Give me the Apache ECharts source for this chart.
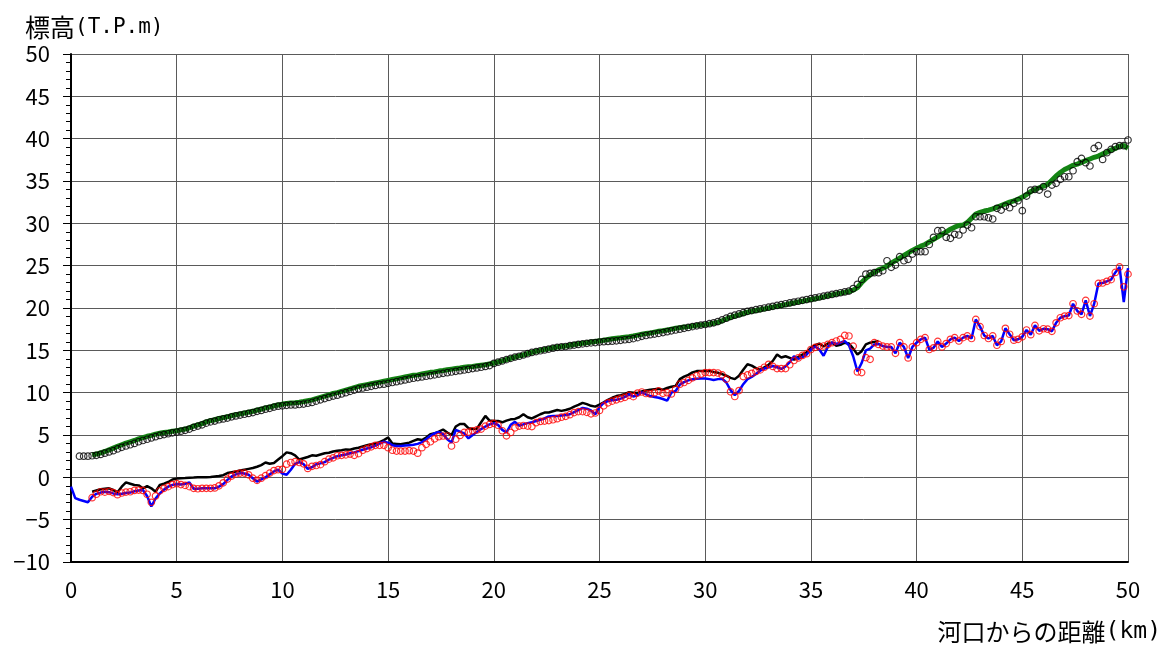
<!DOCTYPE html>
<html>
<head>
<meta charset="utf-8">
<script src="https://cdn.jsdelivr.net/npm/echarts@6/dist/echarts.min.js"></script>
<style>
  html, body { margin: 0; padding: 0; background: #fff; }
  #chart { width: 1164px; height: 648px; }
</style>
</head>
<body>
<div id="chart"></div>
<script>
// 測点: 0.2km ピッチ (0.0 ～ 50.0km), 各行 5km 分
const km = Array.from({ length: 251 }, (_, i) => i / 5)

// 上段 緑線
const greenUpper = [
  null, null, null, null, null, 2.65, 2.75, 2.9, 3.05, 3.25, 3.45, 3.65, 3.85, 4.05, 4.2, 4.35, 4.55, 4.7, 4.85, 4.95, 5.1, 5.2, 5.3, 5.35, 5.45,
  5.5, 5.6, 5.7, 5.85, 6.05, 6.2, 6.35, 6.55, 6.7, 6.8, 6.95, 7.05, 7.15, 7.3, 7.4, 7.5, 7.6, 7.7, 7.8, 7.95, 8.05, 8.2, 8.3, 8.45, 8.55,
  8.65, 8.72, 8.78, 8.82, 8.88, 8.95, 9.05, 9.15, 9.3, 9.45, 9.6, 9.75, 9.9, 10.0, 10.15, 10.3, 10.45, 10.6, 10.75, 10.85, 10.95, 11.05, 11.15, 11.25, 11.35,
  11.45, 11.55, 11.65, 11.75, 11.85, 11.95, 12.05, 12.1, 12.2, 12.3, 12.4, 12.45, 12.55, 12.62, 12.7, 12.78, 12.85, 12.92, 13.0, 13.05, 13.1, 13.18, 13.25, 13.3, 13.4,
  13.5, 13.62, 13.75, 13.9, 14.05, 14.2, 14.35, 14.45, 14.6, 14.75, 14.9, 15.0, 15.1, 15.2, 15.3, 15.4, 15.45, 15.52, 15.6, 15.7, 15.78, 15.84, 15.9, 15.98, 16.05,
  16.12, 16.2, 16.28, 16.36, 16.42, 16.48, 16.55, 16.62, 16.7, 16.8, 16.9, 16.98, 17.05, 17.15, 17.25, 17.32, 17.4, 17.5, 17.6, 17.68, 17.75, 17.8, 17.88, 17.95, 18.0,
  18.05, 18.12, 18.2, 18.3, 18.5, 18.7, 18.9, 19.05, 19.2, 19.35, 19.5, 19.6, 19.7, 19.8, 19.9, 20.0, 20.1, 20.2, 20.3, 20.4, 20.5, 20.6, 20.7, 20.8, 20.9,
  21.0, 21.1, 21.2, 21.32, 21.45, 21.55, 21.65, 21.75, 21.85, 21.95, 22.1, 22.4, 23.0, 23.5, 23.9, 24.2, 24.5, 24.7, 24.95, 25.3, 25.6, 25.9, 26.2, 26.5, 26.8,
  27.05, 27.3, 27.5, 27.8, 28.1, 28.4, 28.7, 29.0, 29.3, 29.55, 29.75, 29.8, 30.1, 30.6, 31.1, 31.3, 31.45, 31.55, 31.7, 31.9, 32.1, 32.3, 32.5, 32.65, 32.85,
  33.1, 33.4, 33.75, 34.0, 34.2, 34.4, 34.6, 35.1, 35.6, 36.0, 36.35, 36.6, 36.85, 37.0, 37.2, 37.4, 37.6, 37.8, 37.95, 38.2, 38.4, 38.65, 38.85, 39.1, 39.2,
  38.85
]

// 上段 黒丸
const blackUpper = [
  null, null, 2.5, 2.5, 2.5, 2.55, 2.6, 2.7, 2.85, 3.0, 3.15, 3.35, 3.55, 3.7, 3.85, 4.0, 4.2, 4.35, 4.5, 4.65, 4.8, 4.95, 5.05, 5.15, 5.25,
  5.35, 5.45, 5.55, 5.7, 5.9, 6.05, 6.2, 6.4, 6.55, 6.65, 6.8, 6.9, 7.0, 7.15, 7.25, 7.35, 7.45, 7.55, 7.65, 7.8, 7.9, 8.05, 8.15, 8.3, 8.4,
  8.45, 8.5, 8.55, 8.55, 8.6, 8.65, 8.75, 8.85, 9.0, 9.15, 9.3, 9.45, 9.6, 9.7, 9.85, 10.0, 10.15, 10.3, 10.45, 10.55, 10.65, 10.75, 10.85, 10.95, 11.0,
  11.1, 11.2, 11.3, 11.4, 11.5, 11.6, 11.7, 11.78, 11.86, 11.94, 12.02, 12.1, 12.2, 12.28, 12.36, 12.44, 12.52, 12.6, 12.68, 12.76, 12.84, 12.92, 13.0, 13.1, 13.2,
  13.45, 13.6, 13.75, 13.9, 14.05, 14.2, 14.3, 14.45, 14.6, 14.75, 14.85, 14.95, 15.05, 15.15, 15.25, 15.35, 15.4, 15.45, 15.55, 15.62, 15.7, 15.76, 15.82, 15.88, 15.92,
  15.98, 16.02, 16.05, 16.08, 16.12, 16.18, 16.25, 16.3, 16.38, 16.5, 16.65, 16.75, 16.85, 16.92, 17.0, 17.1, 17.2, 17.3, 17.4, 17.5, 17.6, 17.7, 17.8, 17.9, 17.98,
  18.05, 18.15, 18.25, 18.4, 18.6, 18.8, 19.0, 19.15, 19.3, 19.45, 19.6, 19.7, 19.8, 19.9, 20.0, 20.1, 20.2, 20.3, 20.4, 20.5, 20.6, 20.7, 20.8, 20.9, 21.0,
  21.1, 21.2, 21.3, 21.4, 21.5, 21.6, 21.7, 21.8, 21.9, 22.0, 22.3, 22.8, 23.38, 24.01, 24.09, 24.17, 24.17, 24.4, 25.58, 24.8, 25.07, 26.06, 25.58, 25.75, 26.37,
  26.65, 26.65, 26.65, 27.5, 28.35, 29.13, 29.13, 28.35, 28.23, 28.7, 28.62, 29.21, 29.8, 29.48, 30.78, 30.78, 30.78, 30.66, 30.51, 31.77, 31.57, 32.04, 31.85, 32.36, 32.67,
  31.49, 33.22, 33.93, 34.0, 33.93, 34.33, 33.46, 34.52, 34.72, 35.19, 35.5, 35.5, 36.21, 37.28, 37.67, 37.16, 36.77, 38.85, 39.17, 37.55, 38.34, 38.73, 39.05, 39.17, 39.17,
  39.84
]

// 下段 黒線
const blackLower = [
  null, null, null, null, null, -1.7, -1.55, -1.4, -1.35, -1.3, -1.5, -1.75, -1.1, -0.6, -0.75, -0.9, -0.95, -1.3, -1.05, -1.3, -1.7, -0.9, -0.75, -0.55, -0.25,
  -0.15, -0.1, -0.08, -0.05, -0.03, 0, 0, 0.02, 0.05, 0.1, 0.15, 0.25, 0.5, 0.6, 0.7, 0.8, 0.9, 1.0, 1.1, 1.25, 1.45, 1.75, 1.6, 1.7, 2.1,
  2.5, 2.95, 2.85, 2.6, 2.1, 2.25, 2.4, 2.6, 2.55, 2.7, 2.85, 2.9, 3.05, 3.15, 3.2, 3.3, 3.25, 3.4, 3.5, 3.65, 3.8, 3.9, 4.0, 4.15, 4.4,
  4.7, 4.0, 3.95, 3.9, 4.0, 4.1, 4.3, 4.5, 4.4, 4.7, 5.1, 5.2, 5.4, 5.65, 5.3, 5.0, 6.0, 6.3, 6.3, 5.8, 5.7, 5.75, 6.5, 7.25, 6.7,
  6.65, 6.65, 6.5, 6.7, 6.85, 6.9, 7.1, 7.45, 7.1, 6.95, 7.2, 7.45, 7.65, 7.65, 7.8, 7.95, 7.85, 7.95, 8.1, 8.35, 8.55, 8.8, 8.65, 8.45, 8.35,
  8.6, 8.85, 9.15, 9.4, 9.6, 9.7, 9.85, 10.05, 10.0, 9.95, 10.15, 10.25, 10.35, 10.4, 10.45, 10.35, 10.55, 10.7, 10.8, 11.6, 11.9, 12.1, 12.4, 12.55, 12.57,
  12.57, 12.57, 12.45, 12.35, 12.2, 12.0, 11.75, 11.6, 12.0, 12.7, 13.35, 13.2, 12.9, 12.7, 13.0, 13.3, 13.75, 14.5, 14.15, 14.3, 14.1, 13.9, 14.2, 14.5, 14.75,
  15.3, 15.6, 15.8, 15.45, 15.8, 15.9, 15.55, 15.65, 15.9, 15.8, 15.2, 14.5, 14.9, 15.7, 15.9, 16.0, 16.1
]

// 下段 青線
const blueLower = [
  -1.1, -2.45, -2.65, -2.8, -2.95, -2.3, -1.95, -1.8, -1.7, -1.75, -1.9, -2.0, -1.95, -1.85, -1.8, -1.65, -1.55, -1.5, -2.2, -3.45, -2.5, -1.9, -1.45, -1.1, -0.9,
  -0.8, -0.85, -0.75, -0.6, -1.35, -1.35, -1.3, -1.3, -1.3, -1.3, -1.1, -0.8, -0.3, 0.1, 0.35, 0.5, 0.45, 0.3, -0.1, -0.5, -0.25, 0.0, 0.35, 0.7, 0.9,
  0.45, 0.3, 0.9, 1.6, 1.8, 1.55, 1.0, 1.2, 1.55, 1.65, 1.8, 2.1, 2.3, 2.5, 2.6, 2.7, 2.85, 2.95, 3.1, 3.25, 3.4, 3.55, 3.75, 4.0, 4.2,
  4.1, 3.8, 3.7, 3.7, 3.75, 3.8, 3.85, 3.95, 4.15, 4.5, 4.9, 5.2, 5.35, 5.1, 4.5, 4.1, 5.6, 5.4, 5.2, 4.6, 5.0, 5.35, 5.7, 6.0, 6.25,
  6.4, 6.2, 5.6, 5.3, 6.2, 6.55, 6.1, 6.25, 6.4, 6.5, 6.65, 6.8, 6.95, 7.2, 7.25, 7.25, 7.3, 7.35, 7.45, 7.7, 7.95, 8.2, 8.1, 7.9, 7.45,
  8.3, 8.8, 9.0, 9.1, 9.15, 9.3, 9.5, 9.8, 9.55, 9.7, 10.05, 9.8, 9.6, 9.5, 9.4, 9.25, 9.05, 10.0, 10.2, 10.95, 11.25, 11.45, 11.58, 11.65, 11.67,
  11.67, 11.6, 11.5, 11.6, 11.65, 11.2, 10.3, 9.7, 10.2, 11.0, 11.6, 11.85, 12.2, 12.6, 12.85, 13.0, 13.15, 13.0, 12.8, 13.1, 13.6, 14.3, 14.0, 14.2, 14.5,
  15.1, 15.45, 15.1, 14.35, 15.4, 15.95, 15.75, 15.9, 16.1, 15.6, 14.3, 12.5, 13.5, 15.0, 15.2, 15.7, 15.75, 15.5, 15.4, 15.4, 14.65, 15.9, 15.4, 14.1, 15.4,
  15.9, 16.3, 16.5, 15.1, 15.3, 16.05, 15.4, 15.8, 16.3, 16.5, 16.1, 16.5, 16.7, 16.4, 18.65, 17.8, 16.75, 16.4, 16.7, 15.6, 16.05, 17.6, 16.9, 16.2, 16.3,
  16.6, 17.4, 16.85, 17.95, 17.3, 17.55, 17.5, 17.25, 18.25, 18.85, 19.05, 19.1, 20.5, 19.65, 19.25, 20.9, 19.05, 20.5, 22.9, 22.95, 23.15, 23.35, 24.2, 24.85, 20.7,
  24.7
]

// 下段 赤丸
const redLower = [
  null, null, null, null, null, -2.4, -2.0, -1.7, -1.75, -1.65, -1.8, -2.05, -1.85, -1.75, -1.7, -1.55, -1.5, -1.55, -2.0, -2.95, -2.2, -1.6, -1.3, -1.1, -0.85,
  -0.75, -0.85, -0.95, -1.1, -1.3, -1.35, -1.3, -1.3, -1.3, -1.25, -1.0, -0.65, -0.2, 0.15, 0.4, 0.5, 0.5, 0.3, -0.1, -0.35, -0.1, 0.2, 0.5, 0.8, 0.9,
  0.95, 1.55, 1.75, 1.85, 1.75, 1.6, 1.05, 1.3, 1.4, 1.5, 1.85, 2.15, 2.3, 2.55, 2.6, 2.65, 2.75, 2.6, 2.8, 3.2, 3.4, 3.6, 3.78, 3.78, 3.78,
  3.5, 3.2, 3.1, 3.1, 3.1, 3.15, 3.1, 2.85, 3.5, 3.9, 4.2, 4.55, 4.8, 4.88, 4.88, 3.7, 4.5, 4.95, 5.3, 5.35, 5.5, 5.6, 5.7, 6.05, 6.25,
  6.38, 6.15, 5.5, 4.9, 5.3, 5.85, 6.05, 6.12, 6.05, 6.0, 6.45, 6.6, 6.65, 6.7, 6.8, 6.93, 7.1, 7.2, 7.4, 7.65, 7.76, 7.76, 7.68, 7.5, 7.6,
  7.9, 8.45, 8.8, 9.0, 9.15, 9.3, 9.45, 9.68, 9.53, 9.95, 10.08, 9.9, 9.85, 10.0, 10.2, 9.92, 10.0, 9.85, 10.4, 11.0, 11.2, 11.45, 11.75, 12.0, 12.2,
  12.37, 12.37, 12.37, 12.32, 12.1, 11.6, 10.1, 9.55, 10.25, 11.9, 12.1, 12.29, 12.5, 12.69, 13.0, 13.35, 13.1, 12.84, 12.84, 12.84, 13.3, 13.8, 14.1, 14.4, 14.6,
  15.1, 15.35, 15.45, 15.51, 15.7, 15.9, 16.1, 16.3, 16.76, 16.69, 15.5, 12.45, 12.37, 14.14, 13.94, 15.9, 15.7, 15.5, 15.4, 15.4, 14.65, 15.9, 15.4, 14.1, 15.4,
  15.9, 16.3, 16.5, 15.1, 15.3, 16.05, 15.4, 15.8, 16.3, 16.5, 16.1, 16.5, 16.7, 16.4, 18.65, 17.8, 16.75, 16.4, 16.7, 15.6, 16.05, 17.6, 16.9, 16.2, 16.3,
  16.6, 17.4, 16.85, 17.95, 17.3, 17.55, 17.5, 17.25, 18.25, 18.85, 19.05, 19.1, 20.5, 19.65, 19.25, 20.9, 19.05, 20.5, 22.9, 22.95, 23.15, 23.35, 24.2, 24.85, 22.5,
  24.0
]

// km と標高を組にする（欠測は除く）
const toPairs = (vals) => vals
  .map((v, i) => (v == null ? null : [km[i], v]))
  .filter((p) => p !== null)

const FONT = '"Noto Sans CJK JP", "Liberation Sans", sans-serif'
const MONO = '"DejaVu Sans Mono", "Liberation Mono", monospace'

const chart = echarts.init(document.getElementById('chart'), null, { renderer: 'canvas' })

chart.setOption({
  animation: false,
  backgroundColor: '#fff',
  grid: { left: 71, right: 36, top: 54, bottom: 86, outerBoundsMode: 'none' },
  xAxis: {
    type: 'value',
    min: 0,
    max: 50,
    interval: 5,
    axisLine: { onZero: false, lineStyle: { color: '#000', width: 2 } },
    axisTick: { show: false },
    axisLabel: { margin: 17, fontSize: 22, color: '#000', fontFamily: FONT },
    splitLine: { show: true, lineStyle: { color: '#5a5a5a', width: 1 } }
  },
  yAxis: {
    type: 'value',
    min: -10,
    max: 50,
    interval: 5,
    axisLine: { show: true, lineStyle: { color: '#000', width: 2 } },
    axisTick: { show: true, length: 8, lineStyle: { color: '#000' } },
    minorTick: { show: true, splitNumber: 5, length: 5, lineStyle: { color: '#000' } },
    axisLabel: {
      margin: 21, fontSize: 22, color: '#000', fontFamily: FONT,
      formatter: (v) => String(v).replace('-', '\u2212')
    },
    splitLine: { show: true, lineStyle: { color: '#5a5a5a', width: 1 } }
  },
  graphic: [
    {
      type: 'text', left: 25, top: 15,
      style: {
        text: '{a|標高}{b|(T.P.m)}',
        rich: {
          a: { fontSize: 25, fontFamily: FONT, color: '#000' },
          b: { fontSize: 21, fontFamily: MONO, color: '#000' }
        }
      }
    },
    {
      type: 'text', right: 3, top: 620,
      style: {
        text: '{a|河口からの距離}{b|(km)}',
        rich: {
          a: { fontSize: 24, fontFamily: FONT, color: '#000' },
          b: { fontSize: 23, fontFamily: MONO, color: '#000' }
        }
      }
    }
  ],
  series: [
    {
      type: 'line', data: toPairs(blackLower), showSymbol: false,
      lineStyle: { color: '#000', width: 2.5 }, z: 2
    },
    {
      type: 'line', data: toPairs(blueLower), showSymbol: false,
      lineStyle: { color: '#0000ff', width: 2.5 }, z: 3
    },
    {
      type: 'scatter', data: toPairs(redLower), symbol: 'circle', symbolSize: 6.5,
      itemStyle: { color: 'rgba(0,0,0,0)', borderColor: '#ff0000', borderWidth: 1.2 }, z: 4
    },
    {
      type: 'line', data: toPairs(greenUpper), showSymbol: false,
      lineStyle: { color: '#148414', width: 5 }, z: 2
    },
    {
      type: 'scatter', data: toPairs(blackUpper), symbol: 'circle', symbolSize: 6.5,
      itemStyle: { color: 'rgba(0,0,0,0)', borderColor: '#000', borderWidth: 1.2 }, z: 4
    }
  ]
})
</script>
</body>
</html>
